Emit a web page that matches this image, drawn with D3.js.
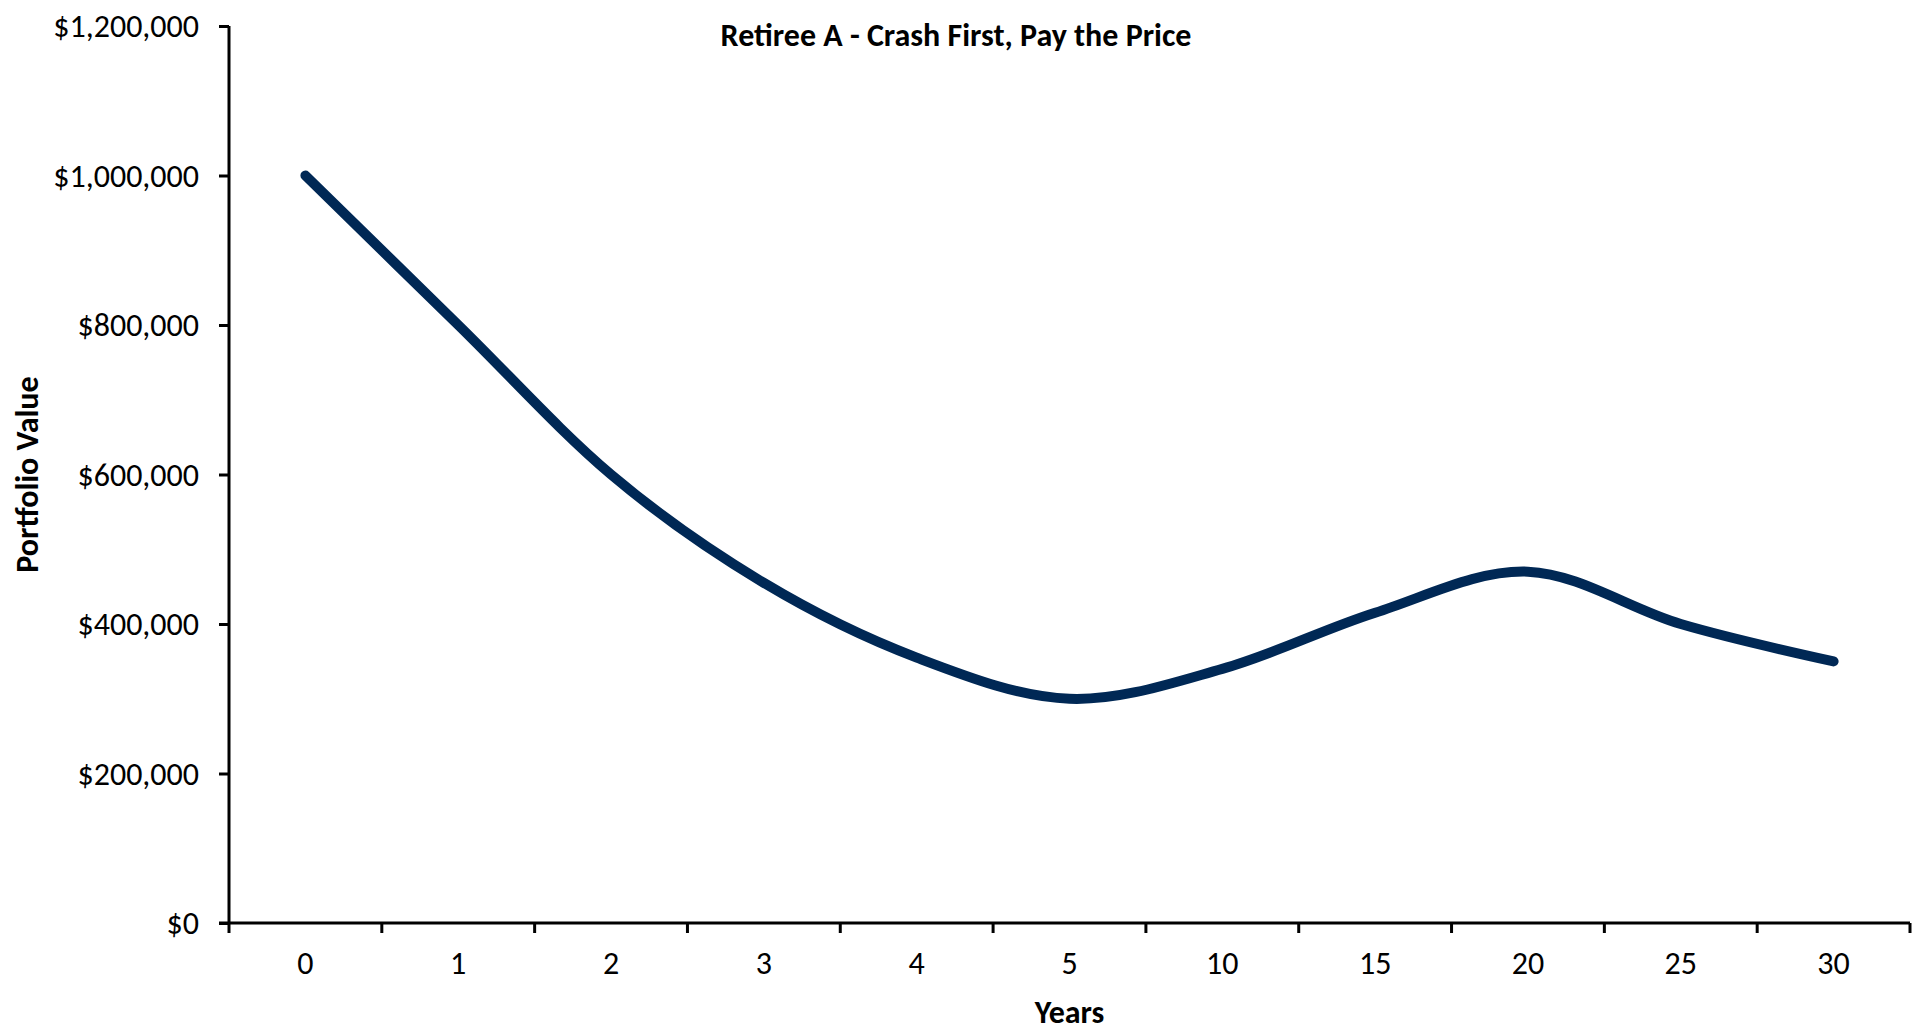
<!DOCTYPE html>
<html>
<head>
<meta charset="utf-8">
<script src="https://cdn.jsdelivr.net/npm/d3@7"></script>
<style>
    body { margin: 0; background: #ffffff; }
    svg text { font-family: Calibri, Carlito, Lato, sans-serif; fill: #000; }
</style>
</head>
<body>
<svg id="chart" width="1918" height="1032"></svg>
<script>
// Chart data
const years = ["0", "1", "2", "3", "4", "5", "10", "15", "20", "25", "30"];
const portfolioValues = [1000000, 800000, 600000, 455000, 355000, 300000, 340000, 415000, 470000, 400000, 350000];
const yTicks = [0, 200000, 400000, 600000, 800000, 1000000, 1200000];

const chartTitle = "Retiree A - Crash First, Pay the Price";
const xTitle = "Years";
const yTitle = "Portfolio Value";

const LINE_COLOR = "#002855";
const FONT_SIZE = 32;

const svg = d3.select("#chart");

// Plot area edges
const plotLeft = 229, plotRight = 1910, plotTop = 26, plotBottom = 923;

const x = d3.scaleBand()
    .domain(years)
    .range([plotLeft, plotRight])
    .padding(0);

const y = d3.scaleLinear()
    .domain([0, 1200000])
    .range([plotBottom, plotTop]);

// Y axis
const yAxis = svg.append("g")
    .attr("transform", `translate(${plotLeft},0)`)
    .call(d3.axisLeft(y)
        .tickValues(yTicks)
        .tickSize(10)
        .tickPadding(20)
        .tickFormat(d => "$" + d3.format(",")(d)));

yAxis.select(".domain").attr("stroke", "#000").attr("stroke-width", 3)
    .attr("d", `M0,${plotTop}V${plotBottom}`);
yAxis.selectAll(".tick line").attr("stroke", "#000").attr("stroke-width", 3);
yAxis.selectAll(".tick text")
    .attr("font-size", FONT_SIZE)
    .attr("dy", "0.34em")
    .style("font-family", "Calibri, Carlito, Lato, sans-serif");

// X axis: labels centred in bands, ticks on band boundaries
const xAxis = svg.append("g")
    .attr("transform", `translate(0,${plotBottom})`)
    .call(d3.axisBottom(x).tickSize(0).tickPadding(0));

xAxis.select(".domain").attr("stroke", "#000").attr("stroke-width", 3)
    .attr("d", `M${plotLeft - 10},0H${plotRight}`);
xAxis.selectAll(".tick text")
    .attr("y", 51)
    .attr("dy", 0)
    .attr("font-size", FONT_SIZE)
    .style("font-family", "Calibri, Carlito, Lato, sans-serif");

xAxis.append("g")
    .selectAll("line")
    .data(d3.range(years.length + 1))
    .enter()
    .append("line")
    .attr("x1", i => x.range()[0] + i * x.step())
    .attr("x2", i => x.range()[0] + i * x.step())
    .attr("y1", 0)
    .attr("y2", 10)
    .attr("stroke", "#000")
    .attr("stroke-width", 3);

// Smoothed value line
const line = d3.line()
    .x((d, i) => x(years[i]) + x.bandwidth() / 2)
    .y(d => y(d))
    .curve(d3.curveCardinal.tension(0));

svg.append("path")
    .datum(portfolioValues)
    .attr("d", line)
    .attr("fill", "none")
    .attr("stroke", LINE_COLOR)
    .attr("stroke-width", 10)
    .attr("stroke-linecap", "round")
    .attr("stroke-linejoin", "round");

// Titles
svg.append("text")
    .attr("x", 956)
    .attr("y", 46)
    .attr("text-anchor", "middle")
    .attr("font-size", FONT_SIZE)
    .attr("font-weight", "bold")
    .text(chartTitle);

svg.append("text")
    .attr("x", (plotLeft + plotRight) / 2)
    .attr("y", 1023)
    .attr("text-anchor", "middle")
    .attr("font-size", FONT_SIZE)
    .attr("font-weight", "bold")
    .text(xTitle);

svg.append("text")
    .attr("transform", `translate(38,${(plotTop + plotBottom) / 2}) rotate(-90)`)
    .attr("text-anchor", "middle")
    .attr("font-size", FONT_SIZE)
    .attr("font-weight", "bold")
    .text(yTitle);
</script>
</body>
</html>
